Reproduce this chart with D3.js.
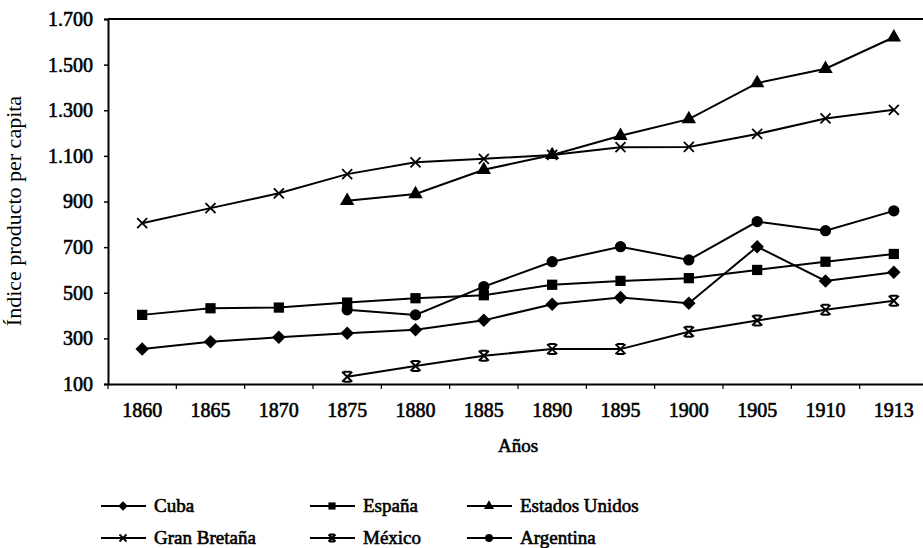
<!DOCTYPE html>
<html>
<head>
<meta charset="utf-8">
<script src="https://cdn.jsdelivr.net/npm/d3@7"></script>
<style>
  body { margin: 0; background: #fff; }
  text { font-family: "Liberation Serif", "Times New Roman", serif; fill: #000; }
  .heavy { stroke: #000; stroke-width: 0.6px; }
</style>
</head>
<body>
<div id="chart"></div>
<script>
// data
const years = ['1860', '1865', '1870', '1875', '1880', '1885', '1890', '1895', '1900', '1905', '1910', '1913'];
const cuba = [253, 285, 305, 322, 338, 379, 450, 479, 454, 702, 552, 590];
const espana = [403, 432, 435, 457, 476, 489, 535, 552, 564, 600, 636, 670];
const estadosUnidos = [null, null, null, 903, 933, 1039, 1104, 1188, 1261, 1419, 1482, 1620];
const granBretana = [805, 871, 936, 1020, 1072, 1087, 1104, 1138, 1139, 1196, 1264, 1302];
const mexico = [null, null, null, 132, 179, 224, 253, 253, 329, 378, 425, 465];
const argentina = [null, null, null, 425, 403, 527, 636, 702, 644, 812, 772, 859];
const yTicks = [100, 300, 500, 700, 900, 1100, 1300, 1500, 1700];

const series = [
  { name: 'Cuba', values: cuba, marker: 'diamond' },
  { name: 'España', values: espana, marker: 'square' },
  { name: 'Estados Unidos', values: estadosUnidos, marker: 'triangle' },
  { name: 'Gran Bretaña', values: granBretana, marker: 'x' },
  { name: 'México', values: mexico, marker: 'star' },
  { name: 'Argentina', values: argentina, marker: 'circle' }
];

const w = 923;
const h = 548;
const plotLeft = 108, plotRight = 928, plotTop = 19, plotBottom = 384;

const svg = d3.select('#chart').append('svg')
  .attr('width', w)
  .attr('height', h);

const xScale = d3.scaleBand().domain(years).range([plotLeft, plotRight]);
const xc = d => xScale(d) + xScale.bandwidth() / 2;
const yScale = d3.scaleLinear().domain([100, 1700]).range([plotBottom, plotTop]);

// frame: top line, left axis, bottom axis
svg.append('line')
  .attr('x1', plotLeft).attr('x2', w).attr('y1', plotTop).attr('y2', plotTop)
  .attr('stroke', '#000').attr('stroke-width', 2);

const yAxis = d3.axisLeft(yScale)
  .tickValues(yTicks)
  .tickSize(4)
  .tickPadding(11)
  .tickFormat(d => d3.format(',')(d).replace(',', '.'));
const gy = svg.append('g')
  .attr('transform', 'translate(' + plotLeft + ',0)')
  .call(yAxis);
gy.attr('font-family', null);
gy.select('.domain').attr('stroke-width', 2);
gy.selectAll('.tick line').attr('stroke-width', 1.5);
gy.selectAll('text')
  .attr('class', 'heavy')
  .style('font-size', '20px');

const xAxis = d3.axisBottom(xScale).tickSize(0).tickPadding(19);
const gx = svg.append('g')
  .attr('transform', 'translate(0,' + plotBottom + ')')
  .call(xAxis);
gx.attr('font-family', null);
gx.select('.domain').attr('stroke-width', 2);
gx.selectAll('text')
  .attr('class', 'heavy')
  .style('font-size', '20px');

// small ticks between categories
svg.selectAll('.xtick').data(years).enter().append('line')
  .attr('class', 'xtick')
  .attr('x1', d => xScale(d)).attr('x2', d => xScale(d))
  .attr('y1', plotBottom).attr('y2', plotBottom + 5)
  .attr('stroke', '#000').attr('stroke-width', 1.2);

// axis titles
svg.append('text')
  .attr('x', 518).attr('y', 452)
  .attr('text-anchor', 'middle')
  .attr('class', 'heavy')
  .style('font-size', '19px')
  .text('Años');
svg.append('text')
  .attr('transform', 'translate(21,211) rotate(-90)')
  .attr('text-anchor', 'middle')
  .style('font-size', '22px')
  .text('Índice producto per capita');

function drawMarker(g, type, x, y, s) {
  if (type === 'x') {
    g.append('path')
      .attr('d', `M${x - s},${y - s}L${x + s},${y + s}M${x - s},${y + s}L${x + s},${y - s}`)
      .attr('stroke', '#000').attr('stroke-width', 1.8).attr('fill', 'none');
  } else if (type === 'star') {
    g.append('path')
      .attr('d', `M${x - s},${y - s}L${x + s},${y + s}M${x - s},${y + s}L${x + s},${y - s}M${x - s * 0.7},${y - s}L${x + s * 0.7},${y - s}M${x - s * 0.7},${y + s}L${x + s * 0.7},${y + s}`)
      .attr('stroke', '#000').attr('stroke-width', 2).attr('fill', 'none');
  } else if (type === 'diamond') {
    const r = s * 1.35;
    g.append('path')
      .attr('d', `M${x},${y - r}L${x + r},${y}L${x},${y + r}L${x - r},${y}Z`)
      .attr('fill', '#000');
  } else {
    const sym = {
      square: [d3.symbolSquare, 4.2 * s * s],
      triangle: [d3.symbolTriangle, 3.6 * s * s],
      circle: [d3.symbolCircle, 4 * s * s]
    }[type];
    g.append('path')
      .attr('d', d3.symbol().type(sym[0]).size(sym[1])())
      .attr('transform', `translate(${x},${y})`)
      .attr('fill', '#000');
  }
}

const line = d3.line()
  .defined(d => d.v !== null)
  .x(d => xc(d.year))
  .y(d => yScale(d.v));

series.forEach(s => {
  const pts = years.map((year, i) => ({ year: year, v: s.values[i] }));
  const g = svg.append('g');
  g.append('path')
    .datum(pts)
    .attr('d', line)
    .attr('fill', 'none')
    .attr('stroke', '#000')
    .attr('stroke-width', 2);
  pts.filter(d => d.v !== null).forEach(d => {
    drawMarker(g, s.marker, xc(d.year), yScale(d.v), 5);
  });
});

// legend
const legendCols = [101, 310, 467];
const legendRows = [506, 538];
series.forEach((s, i) => {
  const lx = legendCols[i % 3];
  const ly = legendRows[Math.floor(i / 3)];
  const g = svg.append('g');
  g.append('line')
    .attr('x1', lx).attr('x2', lx + 45)
    .attr('y1', ly).attr('y2', ly)
    .attr('stroke', '#000').attr('stroke-width', 2);
  drawMarker(g, s.marker, lx + 22, ly, 3.5);
  g.append('text')
    .attr('x', lx + 53).attr('y', ly + 6)
    .attr('class', 'heavy')
    .style('font-size', '19px')
    .text(s.name);
});
</script>
</body>
</html>
